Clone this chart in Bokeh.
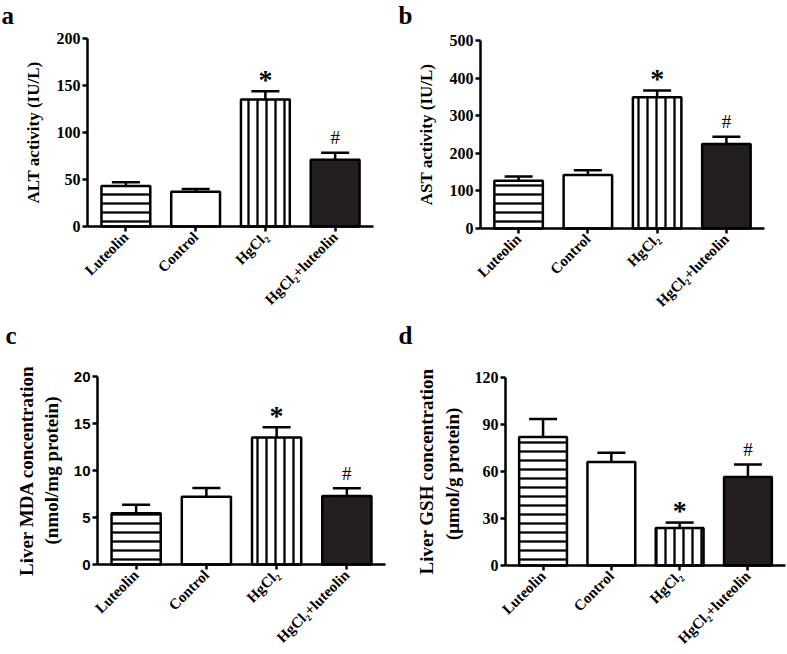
import math
from bokeh.plotting import figure
from bokeh.layouts import row, column
from bokeh.models import (ColumnDataSource, Range1d, FixedTicker,
                          Whisker, TeeHead, Label)
from bokeh.embed import file_html
from bokeh.resources import INLINE
from bokeh.core.properties import value

# ---------------- data ----------------
groups = ["Luteolin", "Control", "HgCl₂", "HgCl₂+luteolin"]

alt_mean = [43, 37, 135, 71]
alt_sem = [4, 3, 9, 7.5]
ast_mean = [127, 142, 349, 225]
ast_sem = [11, 13, 18, 19]
mda_mean = [5.45, 7.2, 13.5, 7.3]
mda_sem = [0.9, 0.95, 1.1, 0.8]
gsh_mean = [82, 66, 24, 56.5]
gsh_sem = [11.5, 6, 3.4, 8]

sig_marks = ["", "", "*", "#"]

alt_ticks = [0, 50, 100, 150, 200]
ast_ticks = [0, 100, 200, 300, 400, 500]
mda_ticks = [0, 5, 10, 15, 20]
gsh_ticks = [0, 30, 60, 90, 120]

fills = ["white", "white", "white", "#231f20"]
hatches = ["-", " ", "|", " "]

SERIF = "Liberation Serif"
SANS = "Liberation Sans"

positions = list(range(1, len(groups) + 1))
X_LO, X_HI = 0.45, len(groups) + 0.55


def panel(letter, means, sems, ticks, ylabel, label_size, label_standoff,
          tick_font, cw, ch, ax_px, xend_px, top_px, zero_px, letter_xy):
    ymax = ticks[-1]
    sx = (xend_px - ax_px) / (X_HI - X_LO)
    sy = (zero_px - top_px) / ymax
    x_range = Range1d(X_LO - ax_px / sx, X_HI + (cw - xend_px) / sx)
    y_range = Range1d(-(ch - zero_px) / sy, ymax + top_px / sy)

    p = figure(x_range=x_range, y_range=y_range, width=cw, height=ch,
               output_backend="svg", toolbar_location=None, min_border=0)
    p.title.visible = False
    p.outline_line_color = None
    p.xgrid.visible = False
    p.ygrid.visible = False
    p.background_fill_color = "white"
    p.border_fill_color = "white"

    uppers = [m + s for m, s in zip(means, sems)]
    src = ColumnDataSource(dict(x=positions, top=means, upper=uppers,
                                fill=fills, hatch=hatches))
    p.vbar(x="x", top="top", bottom=0, width=0.7, source=src,
           fill_color="fill", line_color="black", line_width=2.5,
           hatch_pattern="hatch", hatch_color="black",
           hatch_weight=2.3, hatch_scale=9)
    p.add_layout(Whisker(source=src, base="x", lower="top", upper="upper",
                         dimension="height", line_width=2.5,
                         line_color="black", lower_head=None,
                         upper_head=TeeHead(size=28, line_width=2.5,
                                            line_color="black"),
                         level="glyph"))

    star_x = [g for g, m in zip(positions, sig_marks) if m == "*"]
    star_y = [u for u, m in zip(uppers, sig_marks) if m == "*"]
    hash_x = [g for g, m in zip(positions, sig_marks) if m == "#"]
    hash_y = [u for u, m in zip(uppers, sig_marks) if m == "#"]
    p.text(x=star_x, y=star_y, text=["*"] * len(star_x),
           text_font=value(SERIF), text_font_style="bold",
           text_font_size="28px", text_align="center",
           text_baseline="middle", y_offset=-12, text_color="black")
    p.text(x=hash_x, y=hash_y, text=["#"] * len(hash_x),
           text_font=value(SERIF), text_font_size="19px",
           text_align="center", text_baseline="middle", y_offset=-15,
           text_color="black")

    for ax in (p.xaxis[0], p.yaxis[0]):
        ax.axis_line_width = 2.5
        ax.axis_line_color = "black"
        ax.major_tick_line_width = 2.5
        ax.major_tick_line_color = "black"
        ax.major_tick_in = 0
        ax.major_tick_out = 5
        ax.minor_tick_line_color = None
        ax.major_label_text_color = "black"

    xa = p.xaxis[0]
    xa.fixed_location = 0
    xa.bounds = (X_LO, X_HI)
    xa.ticker = FixedTicker(ticks=positions)
    xa.major_label_overrides = {k: g for k, g in zip(positions, groups)}
    xa.major_label_orientation = math.pi / 4
    xa.major_label_text_font = SERIF
    xa.major_label_text_font_style = "bold"
    xa.major_label_text_font_size = "15px"
    xa.major_label_standoff = 3

    ya = p.yaxis[0]
    ya.fixed_location = X_LO
    ya.bounds = (0, ymax)
    ya.ticker = FixedTicker(ticks=ticks)
    ya.major_label_text_font = tick_font
    ya.major_label_text_font_style = "bold"
    ya.major_label_text_font_size = "16px" if tick_font == SERIF else "15px"
    ya.major_label_standoff = 2
    ya.axis_label = ylabel
    ya.axis_label_text_font = SERIF
    ya.axis_label_text_font_style = "bold"
    ya.axis_label_text_font_size = label_size
    ya.axis_label_text_color = "black"
    ya.axis_label_standoff = label_standoff

    p.add_layout(Label(x=letter_xy[0], y=ch - letter_xy[1], x_units="screen",
                       y_units="screen", text=letter, text_font=SERIF,
                       text_font_style="bold", text_font_size="25px",
                       text_color="black", text_baseline="top"))
    return p


pa = panel("a", alt_mean, alt_sem, alt_ticks, "ALT activity (IU/L)",
           "17px", 11, SERIF, 390, 320, 87, 373, 38, 226, (1, 1))
pb = panel("b", ast_mean, ast_sem, ast_ticks, "AST activity (IU/L)",
           "17px", 11, SERIF, 397, 320, 90, 374, 40, 228, (8, 1))
pc = panel("c", mda_mean, mda_sem, mda_ticks,
           "Liver MDA concentration\n(nmol/mg protein)", "19px", 9,
           SANS, 390, 334, 97, 385, 56, 244, (5, 1))
pd = panel("d", gsh_mean, gsh_sem, gsh_ticks,
           "Liver GSH concentration\n(μmol/g  protein)", "19px", 9,
           SERIF, 397, 334, 115, 395, 57, 245, (8, 1))

layout = column(row(pa, pb), row(pc, pd))
open("out.html", "w").write(file_html(layout, INLINE, "Liver markers"))
